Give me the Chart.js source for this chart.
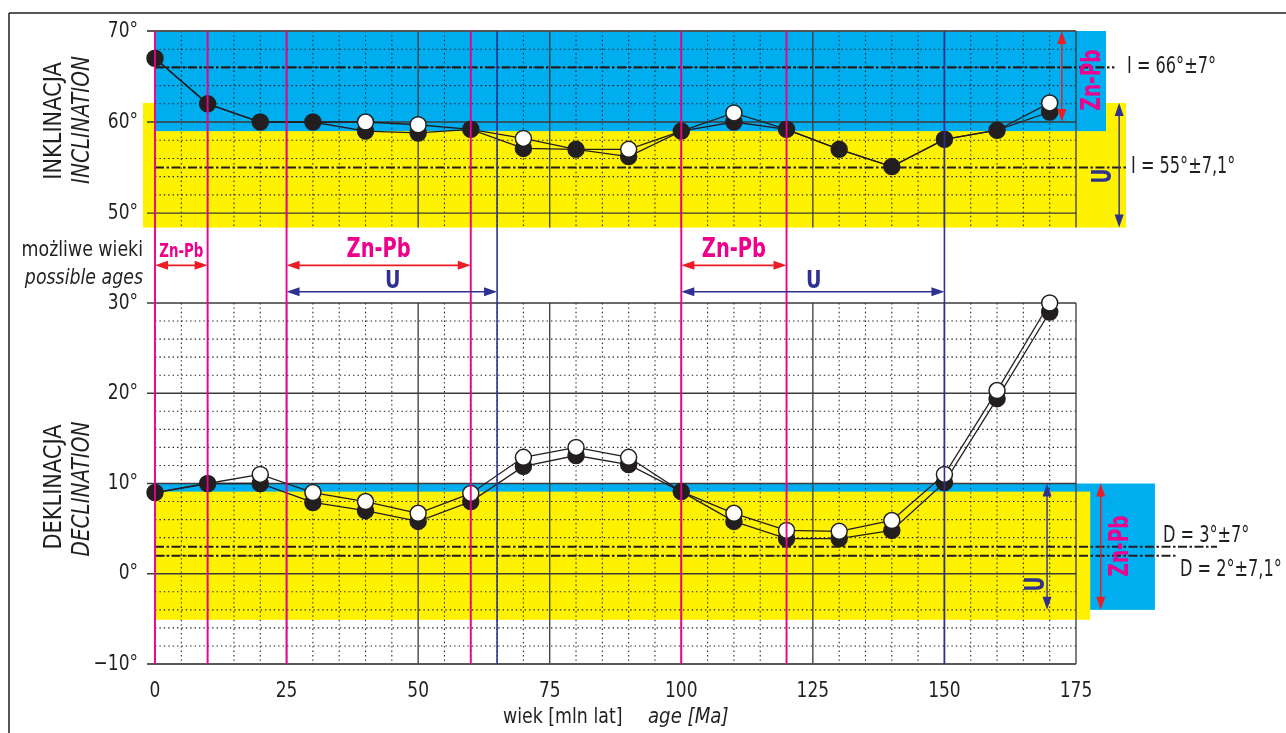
<!DOCTYPE html>
<html>
<head>
<meta charset="utf-8">
<script src="https://cdn.jsdelivr.net/npm/chart.js@4.4.1/dist/chart.umd.min.js"></script>
<style>
  html, body { margin: 0; padding: 0; background: #fff; }
  #wrap { width: 1286px; height: 733px; }
</style>
</head>
<body>
<div id="wrap"><canvas id="myGraph"></canvas></div>
<script>
// ages [Ma] of the paleomagnetic path points
const ages = [0, 10, 20, 30, 40, 50, 60, 70, 80, 90, 100, 110, 120, 130, 140, 150, 160, 170];
const incBlack = [67, 62, 60, 60, 59, 58.8, 59.2, 57.1, 57, 56.2, 59, 60, 59.2, 57, 55.1, 58.1, 59.1, 61.1];
const incWhite = [67, 62, 60, 60, 60, 59.7, 59.2, 58.2, 57, 57, 59, 61, 59.2, 57, 55.1, 58.1, 59.1, 62.1];
const decBlack = [9, 10, 10, 7.9, 7, 5.8, 8, 11.9, 13.1, 12.1, 9.1, 5.8, 3.9, 3.9, 4.8, 10.1, 19.4, 29];
const decWhite = [9, 10, 11, 9, 8, 6.7, 8.9, 12.9, 14, 12.9, 9.1, 6.7, 4.8, 4.7, 5.9, 11, 20.3, 30];

// mean directions [mean, alpha95]
const incZnPb = [66, 7];
const incU = [55, 7.1];
const decZnPb = [3, 7];
const decU = [2, 7.1];

// possible ages of mineralization [Ma]
const znPbAges = [[0, 10], [25, 60], [100, 120]];
const uAges = [[25, 65], [100, 150]];

const xTicks = [0, 25, 50, 75, 100, 125, 150, 175];
const incTicks = [50, 60, 70];
const decTicks = [-10, 0, 10, 20, 30];

const FONT = "'DejaVu Sans Condensed', 'Liberation Sans Narrow', sans-serif";
const INK = '#231f20';
const BLUE = '#00aeef';
const YELLOW = '#fff200';
const MAGENTA = '#ec008c';
const NAVY = '#2e3192';
const RED = '#ed1c24';

function line(ctx, x1, y1, x2, y2) {
  ctx.beginPath();
  ctx.moveTo(x1, y1);
  ctx.lineTo(x2, y2);
  ctx.stroke();
}

function head(ctx, tx, ty, dx, dy) {
  // filled arrow head, tip at (tx, ty), pointing along (dx, dy)
  const len = 13, w = 4.5;
  ctx.beginPath();
  ctx.moveTo(tx, ty);
  ctx.lineTo(tx - dx * len - dy * w, ty - dy * len + dx * w);
  ctx.lineTo(tx - dx * len + dy * w, ty - dy * len - dx * w);
  ctx.closePath();
  ctx.fill();
}

function arrow(ctx, x1, y1, x2, y2, color, width) {
  ctx.save();
  ctx.strokeStyle = color;
  ctx.fillStyle = color;
  ctx.lineWidth = width;
  const d = Math.hypot(x2 - x1, y2 - y1);
  const dx = (x2 - x1) / d, dy = (y2 - y1) / d;
  line(ctx, x1 + dx * 6, y1 + dy * 6, x2 - dx * 6, y2 - dy * 6);
  head(ctx, x2, y2, dx, dy);
  head(ctx, x1, y1, -dx, -dy);
  ctx.restore();
}

// condensed text: sx squeezes the glyphs along the text direction
function text(ctx, str, x, y, font, color, align, sx, rot) {
  ctx.save();
  ctx.font = font;
  ctx.fillStyle = color;
  ctx.textAlign = align || 'center';
  ctx.textBaseline = 'middle';
  ctx.translate(x, y);
  if (rot) ctx.rotate(rot);
  ctx.scale(sx || 1, 1);
  ctx.fillText(str, 0, 0);
  ctx.restore();
}

const bold = s => 'bold ' + s + 'px ' + FONT;
const reg = s => s + 'px ' + FONT;
const ital = s => 'italic ' + s + 'px ' + FONT;
const deg = v => (v < 0 ? '−' + Math.abs(v) : v) + '°';
const comma = v => String(v).replace('.', ',');

const backdrop = {
  id: 'backdrop',
  beforeDatasetsDraw(chart) {
    const { ctx, scales: { x, yInc, yDec } } = chart;
    const px = v => x.getPixelForValue(v);

    function band(ys, x1, x2, lo, hi, color) {
      lo = Math.max(lo, ys.min);
      hi = Math.min(hi, ys.max);
      const yt = ys.getPixelForValue(hi), yb = ys.getPixelForValue(lo);
      ctx.fillStyle = color;
      ctx.fillRect(px(x1), yt, px(x2) - px(x1), yb - yt);
    }

    function grid(ys, lo, hi) {
      ctx.strokeStyle = INK;
      ctx.lineWidth = 1.1;
      ctx.setLineDash([1.4, 3]);
      for (let v = 5; v < 175; v += 5) {
        if (v % 25) line(ctx, px(v), ys.top, px(v), ys.bottom);
      }
      for (let v = lo; v <= hi; v += 2) {
        if (v % 10) line(ctx, px(0), ys.getPixelForValue(v), px(175), ys.getPixelForValue(v));
      }
      ctx.setLineDash([]);
      ctx.lineWidth = 1.3;
      ctx.strokeStyle = '#3a3a3a';
      for (let v = 25; v <= 175; v += 25) line(ctx, px(v), ys.top, px(v), ys.bottom);
      for (let v = lo; v <= hi; v += 10) {
        const y = ys.getPixelForValue(v);
        line(ctx, px(0) - 8, y, px(175), y);
      }
    }

    ctx.save();
    band(yInc, -2.3, 184.5, incU[0] - incU[1], incU[0] + incU[1], YELLOW);
    band(yInc, 0, 180.7, incZnPb[0] - incZnPb[1], incZnPb[0] + incZnPb[1], BLUE);
    band(yDec, 0, 190, decZnPb[0] - decZnPb[1], decZnPb[0] + decZnPb[1], BLUE);
    band(yDec, 0, 177.7, decU[0] - decU[1], decU[0] + decU[1], YELLOW);

    grid(yInc, 50, 70);
    grid(yDec, -10, 30);
    ctx.strokeStyle = '#555';
    ctx.lineWidth = 1.6;
    line(ctx, px(0) - 8, yInc.top, px(175), yInc.top);
    line(ctx, px(0) - 8, yDec.bottom, px(175), yDec.bottom);

    // mean direction lines
    ctx.strokeStyle = INK;
    ctx.lineWidth = 2.1;
    ctx.setLineDash([9, 2.5, 2.5, 2.5]);
    line(ctx, px(0), yInc.getPixelForValue(incZnPb[0]), px(182.3), yInc.getPixelForValue(incZnPb[0]));
    line(ctx, px(0), yInc.getPixelForValue(incU[0]), px(184.5), yInc.getPixelForValue(incU[0]));
    line(ctx, px(0), yDec.getPixelForValue(decZnPb[0]), px(201.8), yDec.getPixelForValue(decZnPb[0]));
    line(ctx, px(0), yDec.getPixelForValue(decU[0]), px(194), yDec.getPixelForValue(decU[0]));
    ctx.restore();
  },
  afterDatasetsDraw(chart) {
    const { ctx, scales: { x, yInc, yDec } } = chart;
    const px = v => x.getPixelForValue(v);
    // possible age boundaries, drawn over the points
    const magentaX = [...new Set(znPbAges.flat())];
    const navyX = uAges.flat().filter(v => !magentaX.includes(v));
    ctx.save();
    ctx.lineWidth = 1.6;
    ctx.strokeStyle = NAVY;
    navyX.forEach(v => line(ctx, px(v), yInc.top, px(v), yDec.bottom));
    ctx.lineWidth = 1.9;
    ctx.strokeStyle = MAGENTA;
    magentaX.forEach(v => line(ctx, px(v), yInc.top, px(v), yDec.bottom));
    ctx.restore();
  },
  afterDraw(chart) {
    const { ctx, scales: { x, yInc, yMid, yDec } } = chart;
    const px = v => x.getPixelForValue(v);
    const up = -Math.PI / 2;

    // outer frame
    ctx.save();
    ctx.strokeStyle = INK;
    ctx.lineWidth = 1.5;
    line(ctx, 9, 13, 1286, 13);
    line(ctx, 9, 13, 9, 733);
    ctx.restore();

    // tick labels
    xTicks.forEach(v => text(ctx, String(v), px(v), 691, reg(22), INK, 'center', 0.86));
    incTicks.forEach(v => text(ctx, deg(v), 138, yInc.getPixelForValue(v), reg(22), INK, 'right', 0.86));
    decTicks.forEach(v => text(ctx, deg(v), 138, yDec.getPixelForValue(v), reg(22), INK, 'right', 0.86));

    // possible ages arrows
    const yR = yMid.getPixelForValue(0.5), yN = yMid.getPixelForValue(0.15);
    znPbAges.forEach(([a, b], i) => {
      arrow(ctx, px(a), yR, px(b), yR, RED, 1.8);
      const small = i === 0;
      text(ctx, 'Zn-Pb', (px(a) + px(b)) / 2, yMid.getPixelForValue(small ? 0.68 : 0.7),
        bold(small ? 20 : 27), MAGENTA, 'center', small ? 0.74 : 0.8);
    });
    uAges.forEach(([a, b]) => {
      arrow(ctx, px(a), yN, px(b), yN, NAVY, 1.6);
      text(ctx, 'U', (px(a) + px(b)) / 2 + 1, yMid.getPixelForValue(0.29), bold(25), NAVY, 'center', 0.85);
    });
    text(ctx, 'możliwe wieki', 143, yMid.getPixelForValue(0.69), reg(21), INK, 'right', 0.92);
    text(ctx, 'possible ages', 143, yMid.getPixelForValue(0.33), ital(21), INK, 'right', 0.92);

    // mean range arrows
    arrow(ctx, px(172.3), yInc.getPixelForValue(70), px(172.3), yInc.getPixelForValue(60), RED, 1.4);
    arrow(ctx, px(183.2), yInc.getPixelForValue(incU[0] + incU[1]), px(183.2), yInc.bottom, NAVY, 1.4);
    arrow(ctx, px(169.5), yDec.getPixelForValue(10), px(169.5), yDec.getPixelForValue(-4), NAVY, 1.4);
    arrow(ctx, px(179.7), yDec.getPixelForValue(10), px(179.7), yDec.getPixelForValue(-4), RED, 1.4);
    text(ctx, 'Zn-Pb', 1093, 80, bold(27), MAGENTA, 'center', 0.76, up);
    text(ctx, 'U', 1104, 176, bold(27), NAVY, 'center', 0.75, up);
    text(ctx, 'U', 1037, 584, bold(27), NAVY, 'center', 0.75, up);
    text(ctx, 'Zn-Pb', 1121, 546, bold(27), MAGENTA, 'center', 0.76, up);

    // mean labels
    text(ctx, 'I = ' + incZnPb[0] + '°±' + incZnPb[1] + '°', 1127, yInc.getPixelForValue(incZnPb[0]),
      reg(23), INK, 'left', 0.78);
    text(ctx, 'I = ' + incU[0] + '°±' + comma(incU[1]) + '°', 1131, yInc.getPixelForValue(incU[0]),
      reg(23), INK, 'left', 0.78);
    text(ctx, 'D = ' + decZnPb[0] + '°±' + decZnPb[1] + '°', 1163, yDec.getPixelForValue(decZnPb[0]) - 11,
      reg(23), INK, 'left', 0.78);
    text(ctx, 'D = ' + decU[0] + '°±' + comma(decU[1]) + '°', 1180, yDec.getPixelForValue(decU[0]) + 14,
      reg(23), INK, 'left', 0.78);

    // axis titles
    text(ctx, 'INKLINACJA', 54, 121, reg(25), INK, 'center', 0.93, up);
    text(ctx, 'INCLINATION', 82, 120, ital(25), INK, 'center', 0.89, up);
    text(ctx, 'DEKLINACJA', 54, 487, reg(25), INK, 'center', 0.93, up);
    text(ctx, 'DECLINATION', 82, 489, ital(25), INK, 'center', 0.89, up);

    text(ctx, 'wiek [mln lat]', 503, 718, reg(21), INK, 'left', 0.92);
    text(ctx, 'age [Ma]', 648, 718, ital(21), INK, 'left', 0.96);
  }
};

const pts = vals => ages.map((a, i) => ({ x: a, y: vals[i] }));

const data = {
  datasets: [
    {
      label: 'I (open)', yAxisID: 'yInc', data: pts(incWhite),
      pointRadius: c => incWhite[c.dataIndex] === incBlack[c.dataIndex] ? 0 : 8,
      pointBackgroundColor: '#fff'
    },
    {
      label: 'D (open)', yAxisID: 'yDec', data: pts(decWhite),
      pointRadius: c => decWhite[c.dataIndex] === decBlack[c.dataIndex] ? 0 : 8,
      pointBackgroundColor: '#fff'
    },
    { label: 'I', yAxisID: 'yInc', data: pts(incBlack), pointRadius: 8, pointBackgroundColor: INK },
    { label: 'D', yAxisID: 'yDec', data: pts(decBlack), pointRadius: 8, pointBackgroundColor: INK }
  ].map(d => Object.assign({
    borderColor: INK, borderWidth: 1.3, pointBorderColor: INK, pointBorderWidth: 1.5,
    tension: 0, clip: false, showLine: true
  }, d))
};

const hidden = { grid: { display: false }, border: { display: false }, ticks: { display: false } };

new Chart(document.getElementById('myGraph'), {
  type: 'line',
  data: data,
  plugins: [backdrop],
  options: {
    responsive: true,
    maintainAspectRatio: false,
    animation: false,
    layout: { padding: { left: 0, top: 31, right: 210, bottom: 0 } },
    plugins: { legend: { display: false }, tooltip: { enabled: false } },
    scales: {
      x: Object.assign({
        type: 'linear', min: 0, max: 175,
        afterFit: s => { s.height = 69; }
      }, hidden),
      yDec: Object.assign({
        type: 'linear', position: 'left', stack: 'v', stackWeight: 361, weight: 1,
        min: -10, max: 30,
        afterFit: s => { s.width = 155; }
      }, hidden),
      yMid: Object.assign({
        type: 'linear', position: 'left', stack: 'v', stackWeight: 75.4, weight: 2,
        min: 0, max: 1,
        afterFit: s => { s.width = 155; }
      }, hidden),
      yInc: Object.assign({
        type: 'linear', position: 'left', stack: 'v', stackWeight: 196.6, weight: 3,
        min: 48.4, max: 70,
        afterFit: s => { s.width = 155; }
      }, hidden)
    }
  }
});
</script>
</body>
</html>
